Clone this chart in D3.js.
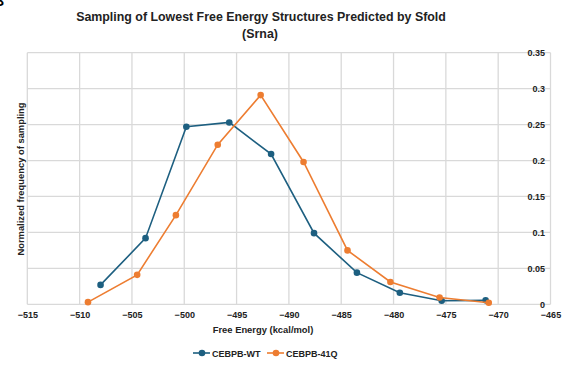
<!DOCTYPE html>
<html>
<head>
<meta charset="utf-8">
<script src="https://cdn.jsdelivr.net/npm/d3@7"></script>
<style>
  body { margin: 0; background: #fff; }
  text { font-family: "Liberation Sans", Arial, sans-serif; }
</style>
</head>
<body>
<svg id="chart" width="573" height="369"></svg>
<script>
// free energy (kcal/mol) and normalized sampling frequency
const wtEnergy = [-508.0, -503.7, -499.8, -495.7, -491.7, -487.6, -483.5, -479.4, -475.4, -471.2];
const wtFreq   = [0.027, 0.092, 0.247, 0.253, 0.209, 0.099, 0.044, 0.016, 0.005, 0.0055];
const qEnergy  = [-509.2, -504.5, -500.8, -496.8, -492.7, -488.6, -484.4, -480.3, -475.6, -470.9];
const qFreq    = [0.003, 0.041, 0.124, 0.222, 0.291, 0.198, 0.075, 0.031, 0.0095, 0.0022];
const xTicks = [-515, -510, -505, -500, -495, -490, -485, -480, -475, -470, -465];
const yTicks = [0, 0.05, 0.1, 0.15, 0.2, 0.25, 0.3, 0.35];
const seriesNames = ['CEBPB-WT', 'CEBPB-41Q'];
const colors = ['#1d5f80', '#ed7d31'];

const svg = d3.select('#chart');
const x = d3.scaleLinear().domain([-515, -465]).range([27.3, 550.5]);
const y = d3.scaleLinear().domain([0, 0.35]).range([304.3, 52.7]);

// corner panel letter (cut off in the original too)
svg.append('text').attr('x', -6).attr('y', 6).attr('font-size', 14).attr('font-weight', 'bold').text('B');

// title
svg.append('text').attr('x', 261).attr('y', 21).attr('text-anchor', 'middle')
  .attr('font-size', 12.4).attr('font-weight', 'bold').attr('fill', '#222')
  .text('Sampling of Lowest Free Energy Structures Predicted by Sfold');
svg.append('text').attr('x', 260).attr('y', 38).attr('text-anchor', 'middle')
  .attr('font-size', 12.4).attr('font-weight', 'bold').attr('fill', '#222')
  .text('(Srna)');

// grid
const grid = svg.append('g').attr('stroke', '#d9d9d9').attr('stroke-width', 1.3);
grid.selectAll('.vx').data(xTicks).enter().append('line')
  .attr('x1', d => x(d)).attr('x2', d => x(d)).attr('y1', y(0.35)).attr('y2', y(0));
grid.selectAll('.hy').data(yTicks).enter().append('line')
  .attr('x1', x(-515)).attr('x2', x(-465)).attr('y1', d => y(d)).attr('y2', d => y(d));

// x axis labels
const xAxis = svg.append('g').attr('transform', `translate(0,${y(0)})`)
  .call(d3.axisBottom(x).tickValues(xTicks).tickSize(0).tickPadding(7));
xAxis.select('.domain').remove();
xAxis.selectAll('text').attr('font-size', 9).attr('font-weight', 'bold').attr('fill', '#222')
  .style('font-family', '"Liberation Sans", Arial, sans-serif');

// y axis labels (inside right edge)
const yAxis = svg.append('g').attr('transform', `translate(545,0)`)
  .call(d3.axisLeft(y).tickValues(yTicks).tickSize(0).tickPadding(0).tickFormat(d3.format('')));
yAxis.select('.domain').remove();
yAxis.selectAll('text').attr('font-size', 9).attr('font-weight', 'bold').attr('fill', '#222')
  .style('font-family', '"Liberation Sans", Arial, sans-serif');

// axis titles
svg.append('text').attr('x', 263).attr('y', 333).attr('text-anchor', 'middle')
  .attr('font-size', 9.4).attr('font-weight', 'bold').attr('fill', '#222')
  .text('Free Energy (kcal/mol)');
svg.append('text').attr('transform', 'translate(24,179) rotate(-90)').attr('text-anchor', 'middle')
  .attr('font-size', 9.4).attr('font-weight', 'bold').attr('fill', '#222')
  .text('Normalized frequency of sampling');

// series
const series = [
  wtEnergy.map((e, i) => [e, wtFreq[i]]),
  qEnergy.map((e, i) => [e, qFreq[i]])
];
const line = d3.line().x(d => x(d[0])).y(d => y(d[1]));
series.forEach((pts, k) => {
  svg.append('path').datum(pts).attr('d', line).attr('fill', 'none')
    .attr('stroke', colors[k]).attr('stroke-width', 1.6);
  svg.selectAll('.m' + k).data(pts).enter().append('circle')
    .attr('cx', d => x(d[0])).attr('cy', d => y(d[1])).attr('r', 3.3).attr('fill', colors[k]);
});

// legend
const legX = [193, 267];
seriesNames.forEach((name, k) => {
  const g = svg.append('g').attr('transform', `translate(${legX[k]},353)`);
  g.append('line').attr('x1', 0).attr('x2', 17).attr('stroke', colors[k]).attr('stroke-width', 1.6);
  g.append('circle').attr('cx', 9).attr('r', 3.3).attr('fill', colors[k]);
  g.append('text').attr('x', 19).attr('y', 3.5).attr('font-size', 9).attr('font-weight', 'bold')
    .attr('fill', '#222').text(name);
});
</script>
</body>
</html>
